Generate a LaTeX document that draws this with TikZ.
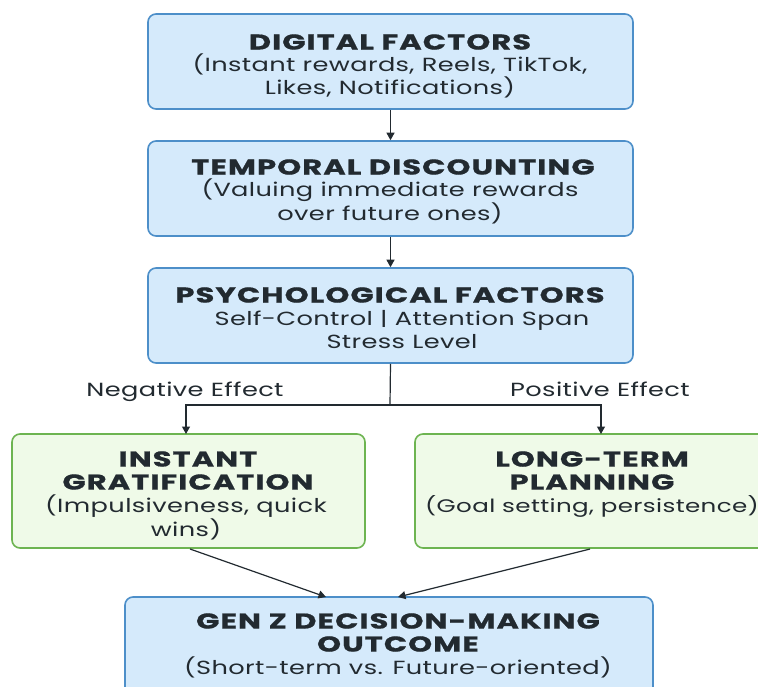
\documentclass[tikz,border=0pt]{standalone}
\usepackage{fontspec}
\setmainfont{Poppins}
\newfontfamily\headfont[FakeStretch=1.42, LetterSpace=5, FakeBold=0.8]{Poppins Bold}
\newfontfamily\bodyfont[FakeStretch=1.35, LetterSpace=2]{Poppins}
\usetikzlibrary{arrows.meta}
\definecolor{bluefill}{HTML}{D5EAFB}
\definecolor{blueedge}{HTML}{4D8FC9}
\definecolor{greenfill}{HTML}{EFFAE8}
\definecolor{greenedge}{HTML}{6DB451}
\definecolor{ink}{HTML}{222A30}
\tikzset{
  x=1pt, y=-1pt,
  box/.style={draw, line width=1.6pt, rounded corners=8pt, inner sep=0pt, align=center, text=ink},
  bluebox/.style={box, fill=bluefill, draw=blueedge},
  greenbox/.style={box, fill=greenfill, draw=greenedge},
  ttl/.style={text=ink, font=\headfont\fontsize{21.5}{23}\selectfont},
  sub/.style={text=ink, font=\bodyfont\fontsize{19}{22.5}\selectfont},
  conn/.style={draw=ink, line width=1.2pt, -{Triangle[length=7.5pt,width=8pt]}},
  lbl/.style={text=ink, anchor=base, font=\bodyfont\fontsize{19}{20}\selectfont}
}
\begin{document}
\begin{tikzpicture}
\useasboundingbox (0,0) rectangle (758,686);
\clip (0,0) rectangle (758,686);
\fill[white] (0,0) rectangle (758,686);

% boxes
\node[bluebox, minimum width=485pt, minimum height=95pt] (digital) at (390.5,61.5) {};
\node[bluebox, minimum width=485pt, minimum height=95pt] (temporal) at (390.5,188.5) {};
\node[bluebox, minimum width=485pt, minimum height=95pt] (psych) at (390.5,315.5) {};
\node[greenbox, minimum width=353pt, minimum height=114pt] (instant) at (188.5,491) {};
\node[greenbox, minimum width=356pt, minimum height=114pt] (longterm) at (593,491) {};
\node[bluebox, minimum width=528pt, minimum height=130pt] (outcome) at (389,662) {};

% texts
\node[ttl] (t1) at (390,42) {DIGITAL FACTORS};
\node[sub, align=center] (s1) at (390,76) {(Instant rewards, Reels, TikTok,\\Likes, Notifications)};
\node[ttl] (t2) at (393,167) {TEMPORAL DISCOUNTING};
\node[sub, align=center] (s2) at (390,201.5) {(Valuing immediate rewards\\over future ones)};
\node[ttl] (t3) at (390,295) {PSYCHOLOGICAL FACTORS};
\node[sub, align=center] (s3) at (402,329.5) {Self-Control | Attention Span\\Stress Level};
\node[ttl, align=center] (t4) at (188,470.5) {INSTANT\\GRATIFICATION};
\node[sub, align=center] (s4) at (186,517.5) {(Impulsiveness, quick\\wins)};
\node[ttl, align=center] (t5) at (592,470.5) {LONG-TERM\\PLANNING};
\node[sub, font=\bodyfont\fontsize{18.2}{20}\selectfont] (s5) at (592,506) {(Goal setting, persistence)};
\node[ttl, align=center] (t6) at (398,632.5) {GEN Z DECISION-MAKING\\OUTCOME};
\node[sub] (s6) at (398,667) {(Short-term vs. Future-oriented)};

% effect labels
\node[lbl] (neg) at (185,396) {Negative Effect};
\node[lbl] (pos) at (600,396) {Positive Effect};

% connectors
\draw[conn] (digital.south) -- (temporal.north);
\draw[conn] (temporal.south) -- (psych.north);
\coordinate (split) at (390,405);
\draw[draw=ink, line width=1.2pt] (psych.south) -- (split);
\draw[conn] (split) -| (186,434) coordinate (instTop);
\draw[conn] (split) -| (601,434) coordinate (longTop);
\coordinate (instOut) at (190,549);
\coordinate (longOut) at (590,549);
\draw[conn] (instOut) -- (326,597);
\draw[conn] (longOut) -- (398,597);
\end{tikzpicture}
\end{document}
